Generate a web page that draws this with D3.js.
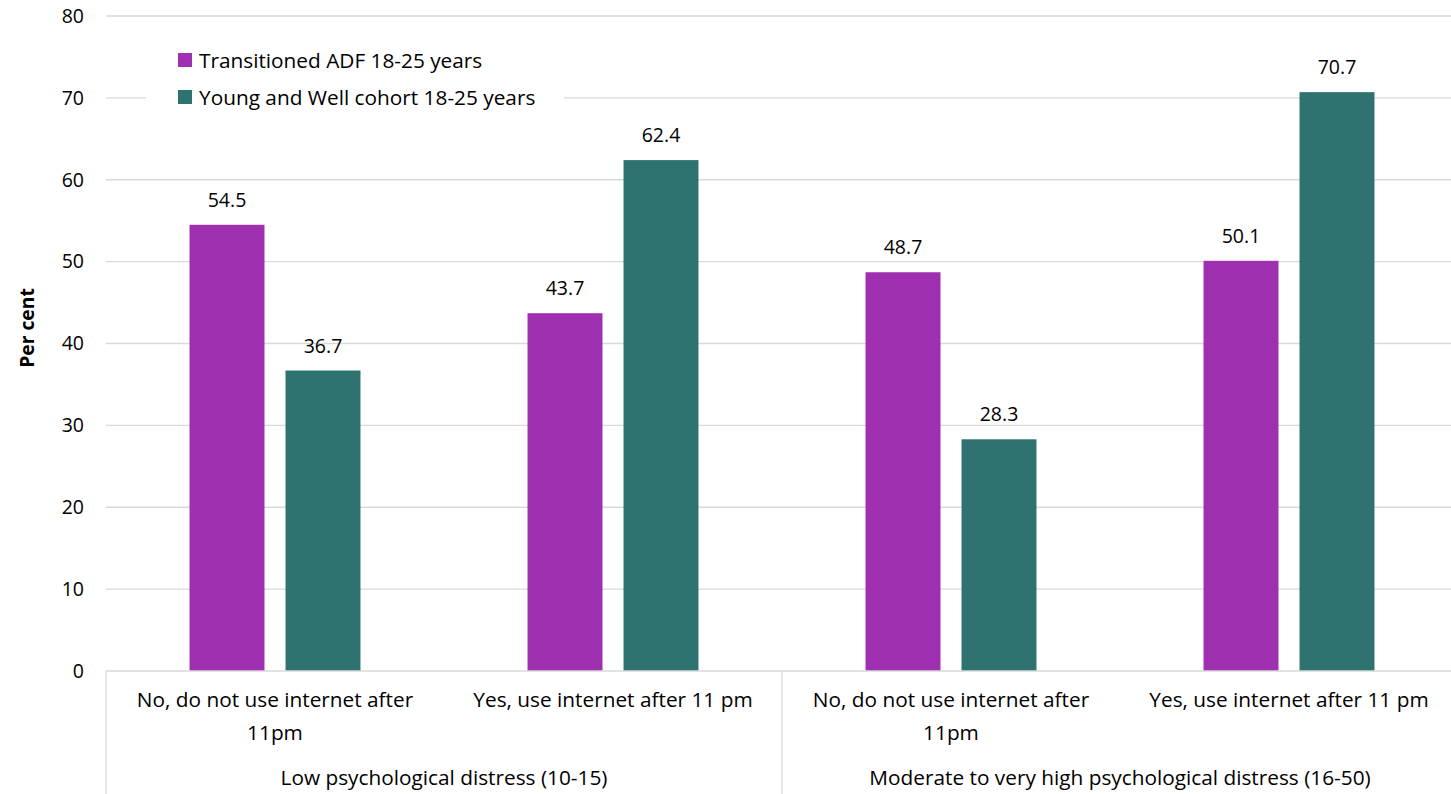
<!DOCTYPE html>
<html>
<head>
<meta charset="utf-8">
<script src="https://cdn.jsdelivr.net/npm/d3@7"></script>
<style>
  html, body { margin: 0; padding: 0; background: #fff; }
  svg text { font-family: "Open Sans", Lato, sans-serif; fill: #000; }
</style>
</head>
<body>
<svg id="chart" width="1451" height="794"></svg>
<script>
// Internet use after 11pm by psychological distress level
const groups = ["Low psychological distress (10-15)", "Moderate to very high psychological distress (16-50)"];
const categories = [
  ["No, do not use internet after", "11pm"],
  ["Yes, use internet after 11 pm"],
  ["No, do not use internet after", "11pm"],
  ["Yes, use internet after 11 pm"]
];
const seriesNames = ["Transitioned ADF 18-25 years", "Young and Well cohort 18-25 years"];
const adfValues = [54.5, 43.7, 48.7, 50.1];
const youngWellValues = [36.7, 62.4, 28.3, 70.7];
const yTicks = [0, 10, 20, 30, 40, 50, 60, 70, 80];
const colors = ["#9e2fb1", "#2e7370"];

const FS = "20.8px";
const svg = d3.select("#chart");
const plotLeft = 106, plotRight = 1458, plotTop = 16, plotBottom = 671;

const x0 = d3.scaleBand().domain(d3.range(categories.length)).range([plotLeft, plotRight]);
const x1 = d3.scaleBand().domain([0, 1]).range([0, x0.bandwidth()]).paddingInner(0.219).paddingOuter(0.87);
const y = d3.scaleLinear().domain([0, 80]).range([plotBottom, plotTop]);

// gridlines
svg.append("g").selectAll("line").data(yTicks.filter(d => d > 0)).join("line")
  .attr("x1", plotLeft).attr("x2", plotRight)
  .attr("y1", d => y(d)).attr("y2", d => y(d))
  .attr("stroke", "#d9d9d9").attr("stroke-width", 1.3);

// y axis labels
const yAxis = d3.axisLeft(y).tickValues(yTicks).tickSize(0).tickPadding(0);
const yg = svg.append("g").attr("transform", `translate(${plotLeft - 22},0)`).call(yAxis);
yg.select(".domain").remove();
yg.selectAll("text").style("font-size", "19.5px").style("font-family", "'Open Sans', sans-serif").attr("fill", "#000");

// y axis title
svg.append("text")
  .attr("transform", "translate(27,328) rotate(-90)")
  .attr("text-anchor", "middle").attr("dy", "0.35em")
  .style("font-size", "19.3px").style("font-weight", "bold")
  .text("Per cent");

// bars
const data = categories.map((c, i) => [adfValues[i], youngWellValues[i]]);
const cat = svg.append("g").selectAll("g").data(data).join("g")
  .attr("transform", (d, i) => `translate(${x0(i)},0)`);
cat.selectAll("rect").data(d => d).join("rect")
  .attr("x", (d, j) => x1(j)).attr("width", x1.bandwidth())
  .attr("y", d => y(d)).attr("height", d => plotBottom - y(d))
  .attr("fill", (d, j) => colors[j]);
cat.selectAll("text.val").data(d => d).join("text").attr("class", "val")
  .attr("x", (d, j) => x1(j) + x1.bandwidth() / 2)
  .attr("y", d => y(d) - 18)
  .attr("text-anchor", "middle")
  .style("font-size", "19.5px")
  .text(d => d.toFixed(1));

// category axis line
svg.append("line").attr("x1", plotLeft).attr("x2", plotRight).attr("y1", plotBottom).attr("y2", plotBottom)
  .attr("stroke", "#d9d9d9").attr("stroke-width", 1.3);
// group separators
const groupEdges = [plotLeft, x0(2), plotRight];
svg.append("g").selectAll("line").data(groupEdges).join("line")
  .attr("x1", d => d).attr("x2", d => d).attr("y1", plotBottom).attr("y2", 794)
  .attr("stroke", "#d9d9d9").attr("stroke-width", 1.3);

// category labels
const cl = svg.append("g").selectAll("text").data(categories).join("text")
  .attr("text-anchor", "middle").style("font-size", FS);
cl.selectAll("tspan").data((d, i) => d.map(s => ({ s, i }))).join("tspan")
  .attr("x", d => x0(d.i) + x0.bandwidth() / 2)
  .attr("y", (d, k) => 707 + k * 33)
  .text(d => d.s);

// group labels
svg.append("g").selectAll("text").data(groups).join("text")
  .attr("x", (d, i) => x0(i * 2) + x0.bandwidth())
  .attr("y", 785).attr("text-anchor", "middle").style("font-size", FS)
  .text(d => d);

// legend
const lg = svg.append("g");
lg.append("rect").attr("x", 146).attr("y", 38).attr("width", 418).attr("height", 80).attr("fill", "#fff");
const li = lg.selectAll("g").data(seriesNames).join("g")
  .attr("transform", (d, i) => `translate(178,${53 + i * 37})`);
li.append("rect").attr("width", 14).attr("height", 14).attr("fill", (d, i) => colors[i]);
li.append("text").attr("x", 21).attr("y", 14.5).style("font-size", FS).text(d => d);
</script>
</body>
</html>
